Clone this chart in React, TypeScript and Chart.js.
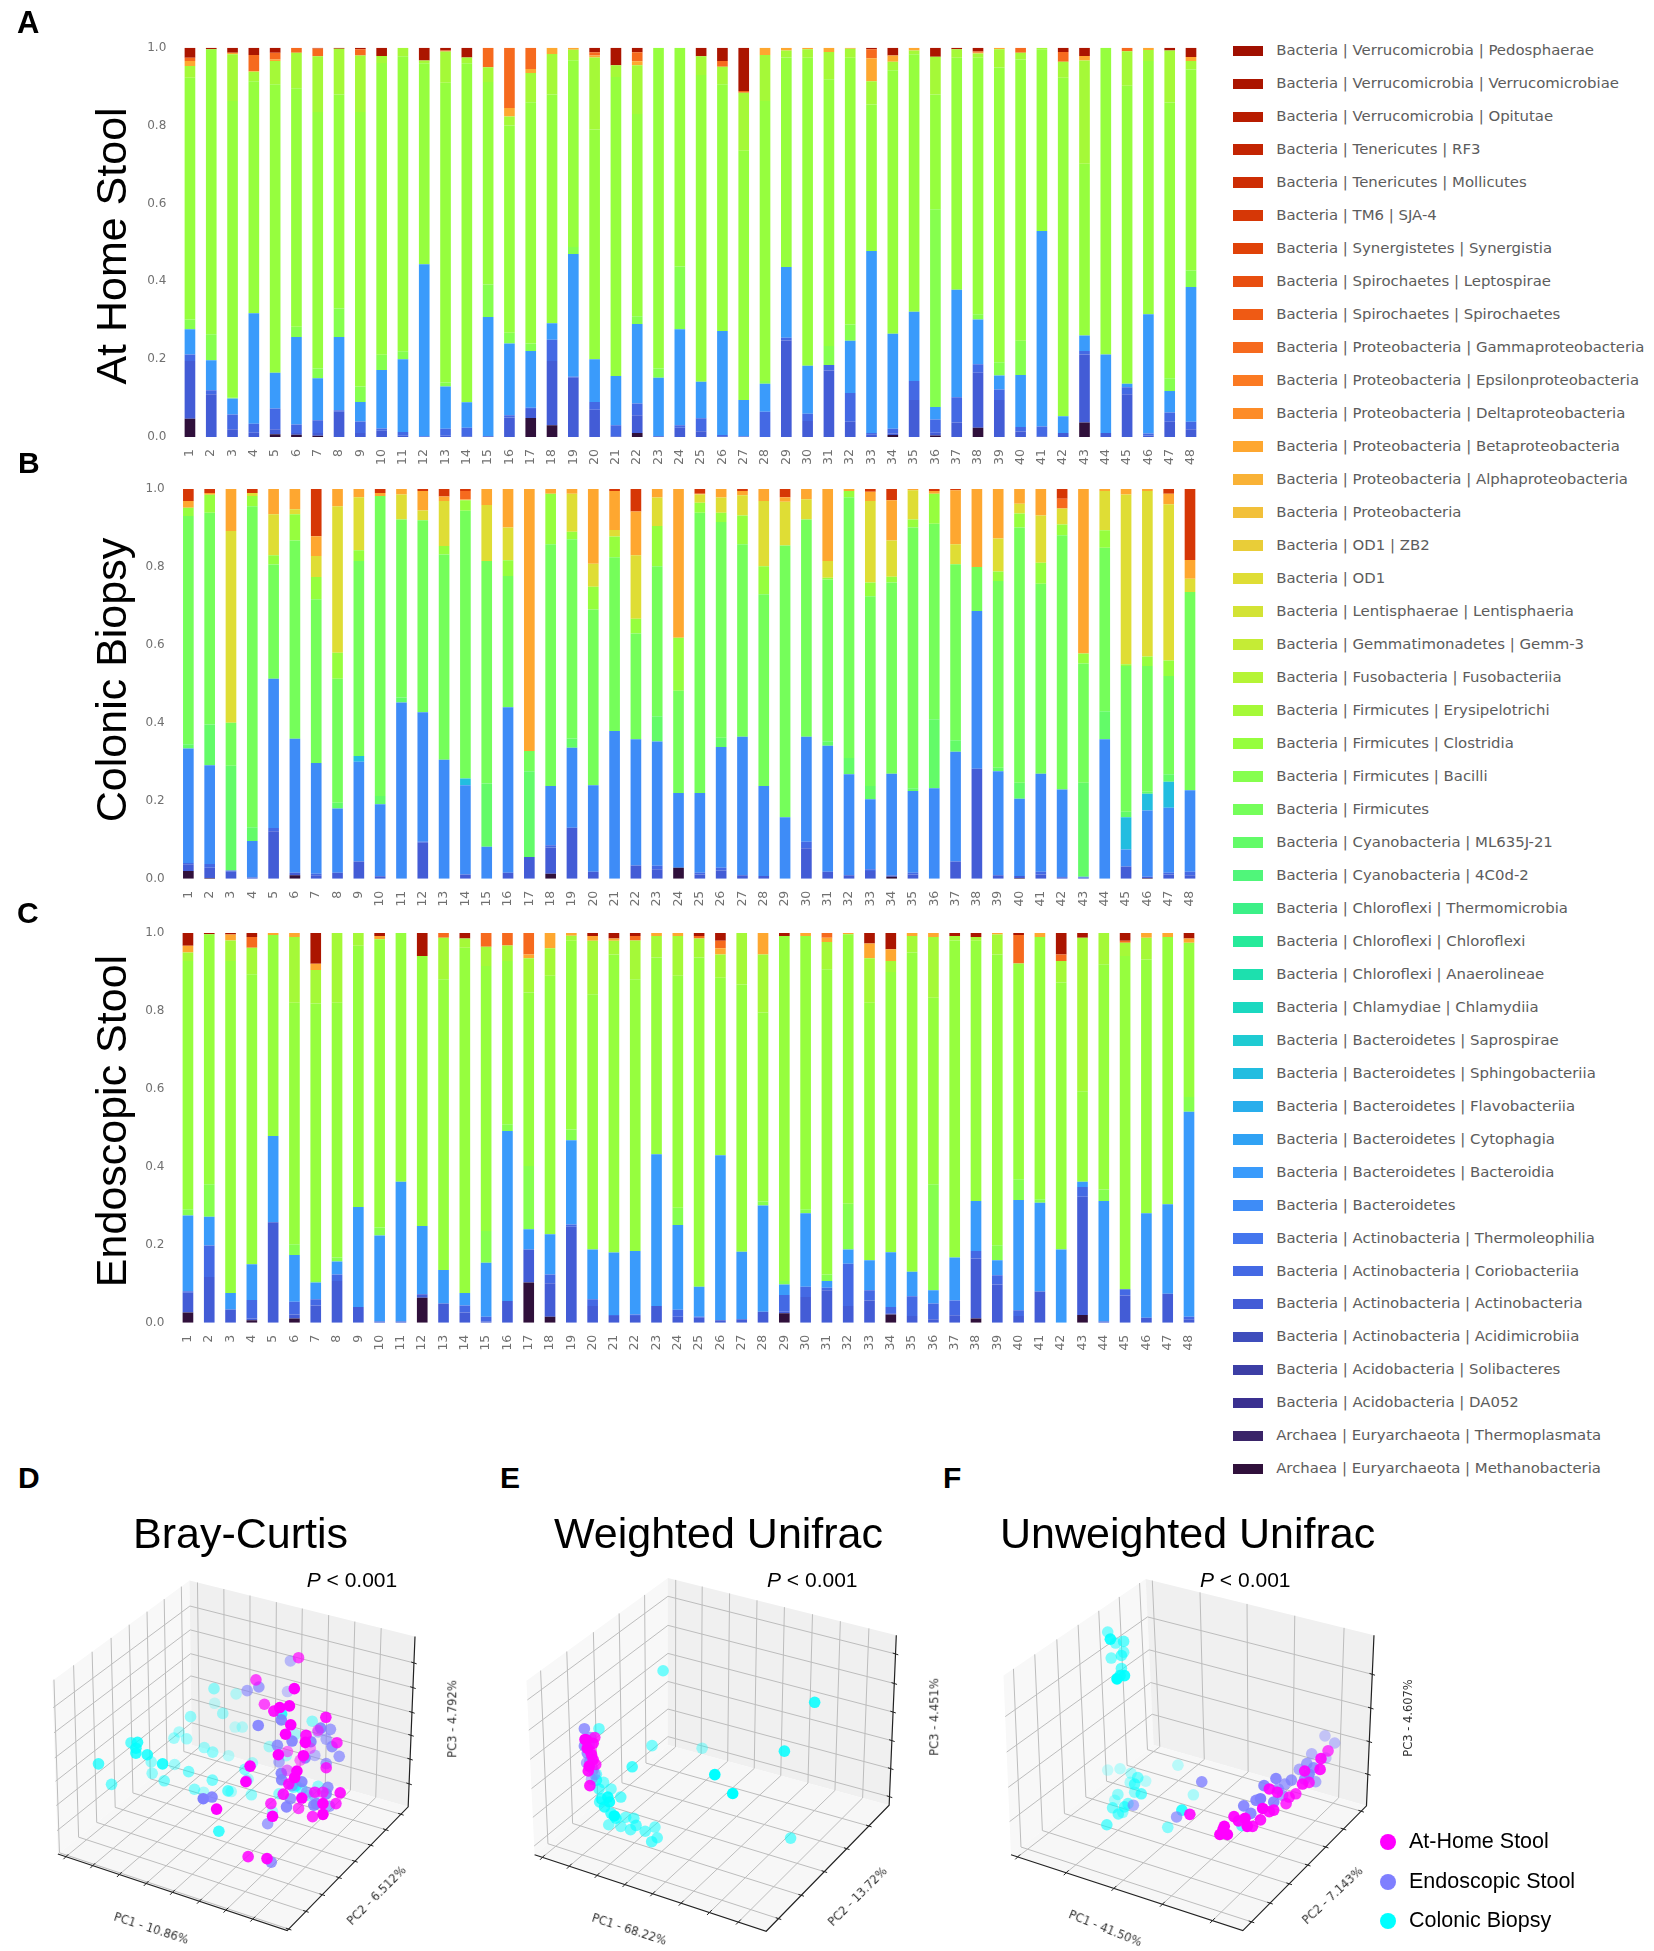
import React, { useEffect, useRef } from "react";
import { Chart, registerables } from "chart.js";
Chart.register(...registerables);

// ---------- legend taxa, top to bottom ----------
const taxonLabels = [
  "Bacteria | Verrucomicrobia | Pedosphaerae","Bacteria | Verrucomicrobia | Verrucomicrobiae","Bacteria | Verrucomicrobia | Opitutae",
  "Bacteria | Tenericutes | RF3","Bacteria | Tenericutes | Mollicutes","Bacteria | TM6 | SJA-4","Bacteria | Synergistetes | Synergistia",
  "Bacteria | Spirochaetes | Leptospirae","Bacteria | Spirochaetes | Spirochaetes","Bacteria | Proteobacteria | Gammaproteobacteria",
  "Bacteria | Proteobacteria | Epsilonproteobacteria","Bacteria | Proteobacteria | Deltaproteobacteria","Bacteria | Proteobacteria | Betaproteobacteria",
  "Bacteria | Proteobacteria | Alphaproteobacteria","Bacteria | Proteobacteria","Bacteria | OD1 | ZB2","Bacteria | OD1","Bacteria | Lentisphaerae | Lentisphaeria",
  "Bacteria | Gemmatimonadetes | Gemm-3","Bacteria | Fusobacteria | Fusobacteriia","Bacteria | Firmicutes | Erysipelotrichi","Bacteria | Firmicutes | Clostridia",
  "Bacteria | Firmicutes | Bacilli","Bacteria | Firmicutes","Bacteria | Cyanobacteria | ML635J-21","Bacteria | Cyanobacteria | 4C0d-2",
  "Bacteria | Chloroflexi | Thermomicrobia","Bacteria | Chloroflexi | Chloroflexi","Bacteria | Chloroflexi | Anaerolineae","Bacteria | Chlamydiae | Chlamydiia",
  "Bacteria | Bacteroidetes | Saprospirae","Bacteria | Bacteroidetes | Sphingobacteriia","Bacteria | Bacteroidetes | Flavobacteriia","Bacteria | Bacteroidetes | Cytophagia",
  "Bacteria | Bacteroidetes | Bacteroidia","Bacteria | Bacteroidetes","Bacteria | Actinobacteria | Thermoleophilia","Bacteria | Actinobacteria | Coriobacteriia",
  "Bacteria | Actinobacteria | Actinobacteria","Bacteria | Actinobacteria | Acidimicrobiia","Bacteria | Acidobacteria | Solibacteres","Bacteria | Acidobacteria | DA052",
  "Archaea | Euryarchaeota | Thermoplasmata","Archaea | Euryarchaeota | Methanobacteria",
];
const taxonColors = [
  "#a00f00","#ab1500","#b81c00","#c32402","#cd2d04","#d63706","#e04208","#e84e10","#ef5a14","#f66a1e","#fb7a22","#fd8c28","#fea730","#f9b236","#f2c03a",
  "#e9cd38","#dfdd35","#d3e335","#c5ec35","#b5f435","#a5f938","#96fe3e","#86ff4e","#75fe5a","#63fb68","#50f67a","#3cf087","#26ea9a","#1de0ae","#1bd8c0",
  "#1fcbd2","#22bde0","#29aeec","#30a2f4","#3a9bfb","#3e8cf7","#4476ee","#4469e4","#435cd6","#3f4dbc","#3c3ea5","#3a3090","#3a2468","#30103b",
];
const sampleLabels = Array.from({ length: 48 }, (_, i) => String(i + 1));

// ---------- A: At Home Stool, upper edge of each taxon in each sample ----------
const homeMethano = [.047,0,0,0,.007,.006,.003,0,0,0,0,0,0,0,0,0,.049,.03,0,0,0,.01,0,0,0,0,0,0,0,0,0,0,0,.005,0,.004,0,.024,0,0,0,0,.037,0,0,0,0,0];
const homeActino = [.195,.11,.02,.011,.02,.01,.01,.065,.01,.016,.003,0,.003,.002,.002,.05,.072,.195,.152,.07,.002,.056,.002,.024,.015,.002,.001,0,.248,.041,.171,.039,.007,.009,.095,.011,.037,.165,.095,.014,.002,.01,.212,.01,.11,.004,.039,.02];
const homeCorio = [.212,.12,.058,.034,.073,.032,.043,.069,.04,.022,.013,.002,.021,.024,.002,.056,.075,.25,.155,.09,.03,.086,.002,.03,.048,.005,.002,.065,.255,.06,.185,.113,.01,.021,.144,.045,.102,.187,.122,.026,.027,.01,.221,.01,.128,.009,.063,.039];
const homeBacteroidia = [.277,.197,.099,.318,.165,.257,.151,.257,.09,.172,.2,.444,.13,.089,.308,.24,.221,.292,.47,.2,.157,.29,.152,.277,.142,.272,.095,.137,.437,.183,.185,.247,.478,.265,.322,.077,.378,.302,.158,.159,.529,.053,.261,.212,.137,.315,.118,.385];
const homeBacilli = [.302,.264,.101,.318,.165,.283,.176,.33,.13,.211,.22,.444,.14,.09,.392,.268,.24,.292,.488,.2,.157,.31,.176,.438,.142,.272,.095,.144,.437,.183,.234,.289,.478,.265,.322,.585,.378,.315,.192,.247,.529,.053,.261,.212,.137,.315,.151,.428];
const homeClostridia = [.923,.996,.863,.914,.906,.896,.835,.88,.835,.961,.978,.96,.91,.96,.912,.8,.86,.88,.968,.79,.925,.83,1,1,.93,.906,.735,.863,.975,.974,.919,.974,.854,.942,.983,.88,.974,.974,.949,.97,.996,.923,.702,1,.902,.966,.859,.944];
const homeErysipelo = [.953,.996,.983,.938,.966,.987,.978,.997,.98,.979,1,.967,.99,.975,.95,.823,.935,.984,.995,.975,.955,.955,1,1,.978,.951,.884,.981,.993,.996,.989,.997,.914,.964,.993,.977,.996,.985,.996,.987,1,.964,.967,1,.991,.994,.993,.966];
const homeBeta = [.966,.996,.987,.94,.97,.987,.978,.997,.98,.979,1,.967,.99,.975,.95,.845,.945,1,1,.98,.955,.965,1,1,.978,.951,.884,1,1,1,1,1,.973,.98,1,.977,.996,.987,1,.987,1,.964,.979,1,.991,1,.993,.976];
const homeGamma = [.974,.996,.987,.981,.987,1,.998,.997,.996,.979,1,.967,.993,.975,1,1,1,1,1,.988,.955,.988,1,1,.978,.966,.889,1,1,1,1,1,.996,.98,1,.977,.996,.99,1,1,1,.989,.979,1,1,1,.993,.976];

// ---------- B: Colonic Biopsy ----------
const biopsyMethano = [.02,.002,0,0,0,.009,0,0,0,0,0,0,0,0,0,0,0,.013,0,0,0,0,0,.028,0,0,0,0,0,0,0,0,0,.005,0,0,0,0,0,.002,0,0,0,0,0,.002,0,0];
const biopsyActino = [.037,.028,.018,.003,.122,.015,.009,.015,.044,.006,0,.092,0,.011,0,.015,.056,.08,.131,.018,0,.034,.024,.028,.011,.021,.009,.007,0,.078,.018,.009,.02,.008,.011,0,.044,.282,.009,.007,.011,.004,.003,0,.031,.005,.011,.009];
const biopsyCorio = [.04,.038,.021,.003,.13,.015,.013,.015,.044,.006,0,.095,0,.011,0,.015,.056,.086,.131,.018,0,.034,.033,.028,.015,.028,.009,.007,0,.095,.018,.009,.024,.008,.015,0,.044,.282,.009,.007,.018,.004,.003,0,.031,.005,.015,.018];
const biopsyBacteroidetes = [.334,.291,.021,.097,.513,.359,.297,.18,.3,.191,.452,.427,.305,.24,.082,.44,.056,.238,.336,.24,.379,.358,.352,.22,.22,.338,.364,.238,.158,.364,.341,.268,.204,.269,.225,.232,.326,.687,.276,.205,.269,.229,.005,.358,.075,.175,.182,.227];
const biopsySphingo = [.334,.291,.021,.097,.513,.359,.297,.18,.315,.191,.452,.427,.305,.257,.082,.44,.056,.238,.336,.24,.379,.358,.352,.22,.22,.338,.364,.238,.158,.364,.341,.268,.204,.269,.225,.232,.326,.687,.276,.205,.269,.229,.005,.358,.158,.218,.249,.227];
const biopsyMl635 = [.345,.396,.29,.132,.513,.359,.297,.195,.315,.212,.465,.427,.305,.257,.244,.44,.276,.238,.36,.24,.379,.358,.417,.22,.22,.362,.364,.238,.158,.364,.353,.31,.238,.269,.232,.409,.355,.687,.285,.246,.269,.229,.246,.43,.172,.223,.268,.227];
const biopsyFirmicutes = [.931,.939,.4,.956,.806,.868,.717,.513,.815,.982,.922,.92,.832,.944,.815,.777,.328,.858,.871,.691,.825,.629,.802,.482,.939,.915,.858,.73,.855,.922,.768,.979,.725,.76,.901,.911,.807,.8,.764,.901,.757,.881,.552,.849,.546,.546,.52,.736];
const biopsyClostridia = [.952,.985,.4,.982,.83,.935,.774,.58,.843,.982,.922,.92,.854,.971,.815,.817,.328,.988,.89,.749,.878,.667,.905,.618,.965,.939,.932,.802,.855,.922,.772,.995,.76,.775,.922,.988,.807,.8,.788,.937,.811,.909,.578,.894,.55,.57,.56,.736];
const biopsyOd1 = [.952,.985,.892,.99,.935,.948,.828,.956,.979,.982,.986,.945,.969,.971,.959,.901,.328,.988,.988,.808,.895,.83,.978,.618,.986,.978,.984,.969,.967,.974,.815,.995,.969,.868,.997,.988,.858,.8,.873,.962,.932,.95,.578,.995,.986,.995,.961,.77];
const biopsyBeta = [.969,.99,1,.99,1,1,.879,1,1,.99,1,.995,.981,.973,1,1,1,1,1,1,.995,.942,1,1,.988,1,.995,1,.979,1,1,1,.993,.971,1,.995,.997,1,1,1,1,.95,1,1,1,1,.988,.818];
const biopsyGamma = [.969,.99,1,.99,1,1,.879,1,1,.99,1,.995,.981,.995,1,1,1,1,1,1,.995,.942,1,1,.988,1,.995,1,.979,1,1,1,.993,.971,1,.995,.997,1,1,1,1,.975,1,1,1,1,.988,.818];

// ---------- C: Endoscopic Stool ----------
const endoMethano = [.026,0,0,.006,0,.011,0,0,0,0,0,.064,0,0,0,0,.103,.015,0,0,0,0,0,0,0,0,0,0,.024,0,0,0,0,.021,0,0,0,.011,0,0,0,0,.02,0,0,0,0,0];
const endoActino = [.077,.117,.034,.011,.258,.021,.044,.107,.04,.003,.003,.073,.049,.026,.003,.056,.188,.101,.246,.043,.017,.017,.043,.015,.013,.006,.009,.028,.028,.066,.083,.043,.057,.024,.017,.009,.019,.165,.098,.017,.08,0,.323,.003,.07,.013,.074,.009];
const endoCorio = [.081,.198,.034,.058,.258,.054,.06,.124,.04,.003,.003,.073,.049,.044,.015,.056,.188,.124,.252,.06,.02,.021,.043,.033,.015,.006,.009,.028,.071,.092,.09,.151,.083,.04,.068,.049,.057,.184,.122,.032,.08,0,.348,.003,.086,.013,.074,.015];
const endoBacteroidia = [.275,.272,.076,.15,.479,.174,.103,.157,.297,.224,.362,.248,.135,.076,.154,.492,.24,.227,.468,.188,.18,.184,.432,.251,.092,.43,.182,.301,.098,.281,.107,.188,.16,.181,.131,.083,.167,.312,.16,.315,.308,.188,.362,.312,.086,.281,.304,.541];
const endoBacilli = [.291,.355,.076,.15,.479,.201,.107,.167,.297,.244,.362,.248,.135,.076,.235,.509,.402,.227,.496,.188,.18,.184,.432,.295,.092,.43,.182,.311,.107,.291,.124,.305,.16,.181,.131,.355,.167,.312,.199,.368,.317,.188,.362,.342,.086,.281,.304,.579];
const endoClostridia = [.928,.997,.928,.894,.995,.821,.819,.821,.967,.984,1,.941,.881,.962,.915,.928,.847,.89,.98,.843,.945,.881,.937,.89,.937,.885,.868,.796,.992,.992,.907,.997,.821,.9,.95,.834,.981,.98,.945,.922,.99,.873,.594,.92,.941,.932,.99,.975];
const endoErysipelo = [.95,.997,.981,.962,.995,.99,.905,1,1,.984,1,.941,.988,.986,.965,.968,.935,.961,.993,.98,.98,.981,.992,.992,.986,.945,1,.945,.992,.992,.977,.997,.935,.928,.992,.99,.992,.99,.996,.922,.99,.928,.988,1,.975,.988,.99,.975];
const endoBeta = [.967,.997,.996,.962,1,1,.921,1,1,.992,1,.941,.988,.986,.965,.968,.945,1,1,.992,.986,.981,1,1,.986,.961,1,1,.992,1,.988,1,.973,.958,1,1,.992,.99,1,.922,1,.928,.988,1,.975,1,1,.986];
const endoGamma = [.967,.997,.996,.99,1,1,.921,1,1,.992,1,.941,1,.986,1,1,1,1,1,.992,.986,.992,1,1,.992,.98,1,1,.992,1,1,1,.973,.958,1,1,.992,.99,1,.995,1,.945,.988,1,.98,1,1,.986];

// [projected x, projected y, depth shade]
const brayHome = [[900,617,.7],[769,685,.7],[887,712,1],[795,760,.7],[824,781,.9],[842,770,1],[872,765,1],[876,823,1],[984,800,.9],[860,852,1],[923,855,.9],[921,877,1],[1018,878,.8],[838,915,1],[866,905,.5],[915,918,1],[905,932,.5],[936,895,.4],[751,950,1],[738,998,1],[985,955,.8],[895,965,1],[865,963,.4],[888,985,1],[870,1005,.9],[1028,1032,.9],[853,1036,.9],[910,1048,1],[950,1030,.8],[975,1030,.7],[975,1065,1],[1015,1065,.8],[815,1065,.8],[900,1080,.7],[648,1082,1],[820,1104,1],[943,1105,.8],[975,1098,1],[745,1228,.85],[803,1234,.95],[960,840,.5]];
const brayEndo = [[875,627,.5],[742,718,.6],[778,707,.7],[866,721,.4],[847,808,.9],[776,825,.9],[968,833,.9],[998,837,.7],[960,845,.5],[880,873,.9],[985,867,.6],[938,875,.9],[1003,890,.8],[835,886,.8],[1025,920,.7],[920,925,.9],[950,917,.5],[985,942,.7],[840,937,.6],[847,972,.9],[848,992,.9],[865,963,.3],[910,998,.9],[880,1010,.6],[990,1015,.8],[985,1035,.9],[948,1040,.5],[875,1050,.8],[863,1075,.9],[947,1070,.9],[995,1073,.7],[955,1065,.8],[607,1050,1],[634,1045,.9],[805,1127,.7],[816,1245,.8],[740,995,.5],[925,1030,.6]];
const brayBiopsy = [[285,943,.7],[325,1006,.55],[385,878,.6],[405,877,.8],[400,895,.8],[400,910,.8],[435,915,.8],[447,937,.4],[482,943,.85],[519,945,.35],[450,972,.4],[487,995,.5],[562,967,.5],[635,993,.5],[580,1021,.45],[608,1030,.3],[683,1026,.6],[693,1028,.3],[755,1038,.4],[568,798,.4],[640,712,.4],[708,728,.25],[642,757,.2],[667,788,.35],[705,830,.2],[727,830,.25],[533,845,.3],[517,864,.35],[556,866,.35],[610,893,.35],[636,907,.4],[685,918,.25],[655,1150,.75],[735,960,.45],[758,940,.3],[745,990,.3],[848,790,.8],[942,812,.4],[890,852,.3],[810,890,.3],[862,918,.3],[840,1035,.4],[885,1015,.5],[910,1020,.5],[960,1012,.4],[820,1090,.3],[892,1010,.6],[930,1040,.4]];

const weightedHome = [[335,862,.8],[305,868,1],[330,880,.9],[312,895,1],[325,915,.9],[330,930,.9],[318,950,1],[338,945,.8],[315,965,.9],[320,1010,.9],[310,870,1],[322,905,.8]];
const weightedEndo = [[303,835,.8],[322,862,.7],[303,888,.8],[312,910,.8],[320,935,.7],[330,960,.6],[335,975,.5],[325,990,.5],[310,940,.6],[318,885,.7]];
const weightedBiopsy = [[545,657,.55],[1011,754,.85],[918,904,.85],[348,835,.55],[511,887,.5],[665,895,.35],[450,952,.7],[704,976,1],[759,1034,1],[937,1171,.55],[340,975,.5],[340,993,.7],[362,1000,.5],[348,1020,.6],[385,1020,.5],[415,1045,.6],[375,1045,.9],[355,1050,.7],[380,1060,.9],[365,1075,.8],[385,1095,.7],[395,1103,1],[430,1107,.5],[455,1110,.55],[462,1132,.6],[378,1130,.5],[415,1135,.5],[445,1145,.55],[490,1150,.55],[520,1137,.5],[527,1170,.55],[510,1182,.6],[400,1110,.7],[350,1060,.6]];

const unweightedHome = [[843,903,.7],[827,927,.9],[825,960,.9],[790,965,.9],[785,1005,.9],[800,1000,.8],[710,1020,.9],[728,1030,.9],[770,1035,.8],[755,1045,.8],[748,1065,.8],[720,1085,.9],[695,1080,1],[690,1115,.9],[710,1090,.9],[630,1105,.95],[655,1110,1],[640,1118,.95],[660,1135,1],[672,1135,.9],[530,1098,.9],[608,1135,1],[598,1160,1],[615,1160,1],[605,1145,1]];
const unweightedEndo = [[836,857,.4],[858,879,.45],[806,912,.5],[838,925,.4],[795,942,.7],[810,955,.8],[800,975,.9],[790,990,.8],[815,998,.6],[725,988,.9],[760,993,.8],[745,1005,.7],[698,1010,.9],[730,1020,.7],[557,998,.8],[720,1060,.9],[690,1050,1],[680,1055,.9],[652,1072,.9],[740,1040,.7],[402,1070,.6],[500,1106,.7],[668,1095,.9],[778,960,.6]];
const unweightedBiopsy = [[344,538,.5],[350,560,.9],[380,567,.6],[362,572,.5],[380,600,.5],[352,618,.5],[375,610,.6],[375,650,.6],[365,682,1],[382,672,.9],[372,672,.8],[344,962,.2],[372,958,.25],[503,947,.25],[397,972,.3],[412,985,.5],[430,996,.25],[395,1000,.3],[405,1005,.6],[420,1035,.6],[405,1030,.4],[367,1037,.4],[538,1038,.3],[360,1055,.3],[390,1065,.5],[355,1078,.5],[382,1075,.6],[368,1097,.55],[512,1085,.8],[480,1138,.45],[342,1130,.6],[648,1133,.6],[378,1092,.4]];

const braySeries = [brayHome, brayEndo, brayBiopsy];
const weightedSeries = [weightedHome, weightedEndo, weightedBiopsy];
const unweightedSeries = [unweightedHome, unweightedEndo, unweightedBiopsy];
const groupNames = ["At-Home Stool", "Endoscopic Stool", "Colonic Biopsy"];
const groupRgb = ["255,0,255", "127,127,255", "0,255,255"];

const brayTicks = { pc1: [.035,.152,.268,.385,.5,.617,.733,.85], pc2: [.012,.155,.29,.428,.56,.69,.815,.94], pc3: [.135,.28,.42,.555,.7,.845] };
const weightedTicks = { pc1: [.034,.15,.27,.39,.51,.633,.755,.88], pc2: [.1,.285,.473,.655,.835], pc3: [.05,.215,.38,.548,.716,.89] };
const unweightedTicks = { pc1: [.029,.238,.444,.653,.869], pc2: [.07,.22,.375,.525,.67,.814,.957], pc3: [.185,.376,.573,.771] };

const SANS = '"Liberation Sans", Arial, sans-serif';
const DEJA = '"DejaVu Sans", sans-serif';

function color(label: string) {
  return taxonColors[taxonLabels.findIndex((t) => t.endsWith(label))];
}

function stackFromEdges(edges: [string, number[]][], lastTaxon: string) {
  const out: any[] = [];
  edges.forEach(([taxon, top], i) => {
    const below = i ? edges[i - 1][1] : null;
    out.push({ label: taxon, backgroundColor: color(taxon), data: top.map((v, j) => Math.max(0, v - (below ? below[j] : 0))) });
  });
  const last = edges[edges.length - 1][1];
  out.push({ label: lastTaxon, backgroundColor: color(lastTaxon), data: last.map((v) => Math.max(0, 1 - v)) });
  return out;
}

const homeStack = stackFromEdges([["Methanobacteria",homeMethano],["| Actinobacteria",homeActino],["Coriobacteriia",homeCorio],["Bacteroidia",homeBacteroidia],["Bacilli",homeBacilli],["Clostridia",homeClostridia],["Erysipelotrichi",homeErysipelo],["Betaproteobacteria",homeBeta],["Gammaproteobacteria",homeGamma]], "Verrucomicrobiae");
const biopsyStack = stackFromEdges([["Methanobacteria",biopsyMethano],["| Actinobacteria",biopsyActino],["Coriobacteriia",biopsyCorio],["Bacteria | Bacteroidetes",biopsyBacteroidetes],["Sphingobacteriia",biopsySphingo],["ML635J-21",biopsyMl635],["Bacteria | Firmicutes",biopsyFirmicutes],["Clostridia",biopsyClostridia],["Bacteria | OD1",biopsyOd1],["Betaproteobacteria",biopsyBeta],["Gammaproteobacteria",biopsyGamma]], "SJA-4");
const endoStack = stackFromEdges([["Methanobacteria",endoMethano],["| Actinobacteria",endoActino],["Coriobacteriia",endoCorio],["Bacteroidia",endoBacteroidia],["Bacilli",endoBacilli],["Clostridia",endoClostridia],["Erysipelotrichi",endoErysipelo],["Betaproteobacteria",endoBeta],["Gammaproteobacteria",endoGamma]], "Verrucomicrobiae");

function Abs({ left, top, style, children }: any) {
  return <div style={{ position: "absolute", left, top, whiteSpace: "nowrap", lineHeight: 1, ...style }}>{children}</div>;
}
// Text placed by its baseline (Liberation Sans metrics).
function Base({ left, base, size, bold, children, font }: any) {
  return <Abs left={left} top={base - 0.8465 * size} style={{ fontFamily: font || SANS, fontSize: size, fontWeight: bold ? 700 : 400, color: "#000" }}>{children}</Abs>;
}
function Turned({ cx, cy, angle, size, font, fill, children }: any) {
  return <Abs left={cx} top={cy} style={{ fontFamily: font, fontSize: size, color: fill, transform: `translate(-50%,-50%) rotate(${angle}deg)` }}>{children}</Abs>;
}

function BarPanel({ stack, top, height, plotLeft, plotRight, plotTop, plotBottom }: any) {
  const ref = useRef<HTMLCanvasElement>(null);
  useEffect(() => {
    const chart = new Chart(ref.current!, {
      type: "bar",
      data: {
        labels: sampleLabels,
        datasets: stack.map((d: any) => ({ ...d, borderWidth: 0, categoryPercentage: 1, barPercentage: 0.5 })),
      },
      options: {
        animation: false, responsive: false, devicePixelRatio: 1,
        layout: { padding: { top: plotTop, left: 0, right: 0, bottom: 0 } },
        plugins: { legend: { display: false }, tooltip: { enabled: false }, title: { display: false } },
        scales: {
          x: {
            stacked: true, offset: true, grid: { display: false }, border: { display: false },
            ticks: { autoSkip: false, maxRotation: 90, minRotation: 90, padding: 4, color: "#707070", font: { family: DEJA, size: 12.5 } },
            afterFit: (s: any) => { s.height = height - plotBottom; },
          },
          y: {
            stacked: true, min: 0, max: 1, grid: { display: false }, border: { display: false },
            ticks: { stepSize: 0.2, padding: 5, color: "#707070", font: { family: DEJA, size: 12 }, callback: (v: any) => Number(v).toFixed(1) },
            afterFit: (s: any) => { s.width = plotLeft; },
          },
        },
      },
    } as any);
    return () => chart.destroy();
  }, []);
  return <canvas ref={ref} width={plotRight} height={height} style={{ position: "absolute", left: 0, top, width: plotRight, height }} />;
}

const wirePlugin = (frame: any, ticks: any) => ({
  id: "wire3d",
  beforeDatasetsDraw(chart: any) {
    const { ctx, scales: { x, y } } = chart;
    const px = (p: number[]) => [x.getPixelForValue(p[0]), y.getPixelForValue(p[1])];
    const mix = (a: number[], b: number[], t: number) => [a[0] + (b[0] - a[0]) * t, a[1] + (b[1] - a[1]) * t];
    const poly = (pts: number[][], fill: string) => {
      ctx.beginPath();
      pts.map(px).forEach((p: number[], i: number) => (i ? ctx.lineTo(p[0], p[1]) : ctx.moveTo(p[0], p[1])));
      ctx.closePath();
      ctx.fillStyle = fill;
      ctx.fill();
    };
    const path = (pts: number[][], stroke: string, w: number) => {
      ctx.beginPath();
      pts.map(px).forEach((p: number[], i: number) => (i ? ctx.lineTo(p[0], p[1]) : ctx.moveTo(p[0], p[1])));
      ctx.strokeStyle = stroke;
      ctx.lineWidth = w;
      ctx.stroke();
    };
    const { L, B, R, F, TL, TB, TR } = frame;
    ctx.save();
    poly([TL, TB, B, L], "#f8f8f8");
    poly([TB, TR, R, B], "#f0f0f0");
    poly([L, B, R, F], "#f7f7f7");
    const grid = "#bdbdbd";
    ticks.pc1.forEach((t: number) => path([mix(L, F, t), mix(B, R, t), mix(TB, TR, t)], grid, 1));
    ticks.pc2.forEach((t: number) => path([mix(F, R, t), mix(L, B, t), mix(TL, TB, t)], grid, 1));
    ticks.pc3.forEach((t: number) => path([mix(R, TR, t), mix(B, TB, t), mix(L, TL, t)], grid, 1));
    path([L, F, R, TR], "#222", 1.2);
    const nudge = (a: number[], d: number[], k: number) => [a[0] + d[0] * k, a[1] + d[1] * k];
    const along = [(R[0] - F[0]), (R[1] - F[1])];
    const across = [(F[0] - L[0]), (F[1] - L[1])];
    ticks.pc1.forEach((t: number) => { const p = mix(L, F, t); path([nudge(p, along, -.02), nudge(p, along, .02)], "#222", 1); });
    ticks.pc2.forEach((t: number) => { const p = mix(F, R, t); path([nudge(p, across, -.012), nudge(p, across, .012)], "#222", 1); });
    ticks.pc3.forEach((t: number) => { const p = mix(R, TR, t); path([nudge(p, across, -.012), nudge(p, across, .012)], "#222", 1); });
    ctx.restore();
  },
});

function OrdinationPanel({ series, frame, ticks, left, width, unitsX, radius }: any) {
  const ref = useRef<HTMLCanvasElement>(null);
  useEffect(() => {
    const chart = new Chart(ref.current!, {
      type: "scatter",
      data: {
        datasets: series.map((pts: number[][], g: number) => ({
          label: groupNames[g],
          data: pts.map((p) => ({ x: p[0], y: p[1] })),
          backgroundColor: pts.map((p) => `rgba(${groupRgb[g]},${p[2]})`),
          borderWidth: 0,
          pointRadius: radius,
        })),
      },
      options: {
        animation: false, responsive: false, devicePixelRatio: 1,
        layout: { padding: 0 },
        plugins: { legend: { display: false }, tooltip: { enabled: false } },
        scales: {
          x: { type: "linear", display: false, min: 0, max: unitsX },
          y: { type: "linear", display: false, min: 0, max: 1503, reverse: true },
        },
      },
      plugins: [wirePlugin(frame, ticks)],
    } as any);
    return () => chart.destroy();
  }, []);
  return <canvas ref={ref} width={width} height={501} style={{ position: "absolute", left, top: 1450, width, height: 501 }} />;
}

const brayFrame = { L: [160,1220], B: [572,885], R: [1237,1075], F: [865,1455], TL: [143,688], TB: [565,380], TR: [1258,552] };
const weightedFrame = { L: [150,1222], B: [560,885], R: [1240,1070], F: [862,1457], TL: [125,688], TB: [560,372], TR: [1262,548] };
const unweightedFrame = { L: [125,1222], B: [448,885], R: [930,1072], F: [650,1455], TL: [108,672], TB: [430,375], TR: [947,548] };

const TITLE = 43;

export default function App() {
  return (
    <div style={{ position: "absolute", left: 0, top: 1, width: 1654, height: 1950, background: "#fff", overflow: "hidden" }}>
      <BarPanel stack={homeStack} top={0} height={480} plotLeft={179.3} plotRight={1210} plotTop={46.7} plotBottom={436} />
      <BarPanel stack={biopsyStack} top={450} height={480} plotLeft={177.7} plotRight={1209} plotTop={38} plotBottom={427.7} />
      <BarPanel stack={endoStack} top={900} height={470} plotLeft={177.3} plotRight={1208} plotTop={32} plotBottom={421.7} />

      <Base left={17} base={32} size={31} bold>A</Base>
      <Base left={18} base={472} size={30} bold>B</Base>
      <Base left={17} base={922} size={30} bold>C</Base>
      <Base left={18} base={1487} size={30} bold>D</Base>
      <Base left={500} base={1487} size={30} bold>E</Base>
      <Base left={943} base={1487} size={30} bold>F</Base>

      <Turned cx={111} cy={245} angle={-90} size={TITLE} font={SANS} fill="#000">At Home Stool</Turned>
      <Turned cx={111} cy={679} angle={-90} size={TITLE} font={SANS} fill="#000">Colonic Biopsy</Turned>
      <Turned cx={111} cy={1120} angle={-90} size={TITLE} font={SANS} fill="#000">Endoscopic Stool</Turned>

      {taxonLabels.map((t, i) => (
        <React.Fragment key={t}>
          <div style={{ position: "absolute", left: 1233.4, top: 49.85 + i * 32.98 - 5.3, width: 30, height: 10.7, background: taxonColors[i] }} />
          <Abs left={1276.2} top={49.85 + i * 32.98 - 7.6} style={{ fontFamily: DEJA, fontSize: 14.9, color: "#5c5c5c" }}>{t}</Abs>
        </React.Fragment>
      ))}

      <OrdinationPanel series={braySeries} frame={brayFrame} ticks={brayTicks} left={0} width={480} unitsX={1440} radius={5.8} />
      <OrdinationPanel series={weightedSeries} frame={weightedFrame} ticks={weightedTicks} left={480} width={480} unitsX={1440} radius={5.8} />
      <OrdinationPanel series={unweightedSeries} frame={unweightedFrame} ticks={unweightedTicks} left={950} width={704} unitsX={1568} radius={5.8} />

      <Base left={133} base={1547} size={TITLE}>Bray-Curtis</Base>
      <Base left={554} base={1547} size={TITLE}>Weighted Unifrac</Base>
      <Base left={1000} base={1547} size={TITLE}>Unweighted Unifrac</Base>
      <Base left={306.7} base={1586} size={21}><i>P</i> &lt; 0.001</Base>
      <Base left={767} base={1586} size={21}><i>P</i> &lt; 0.001</Base>
      <Base left={1200} base={1586} size={21}><i>P</i> &lt; 0.001</Base>

      <Turned cx={151} cy={1928} angle={18} size={11.5} font={DEJA} fill="#333">PC1 - 10.86%</Turned>
      <Turned cx={377} cy={1895} angle={-45} size={11.5} font={DEJA} fill="#333">PC2 - 6.512%</Turned>
      <Turned cx={452.7} cy={1718} angle={-90} size={11.5} font={DEJA} fill="#333">PC3 - 4.792%</Turned>
      <Turned cx={629} cy={1929} angle={18} size={11.5} font={DEJA} fill="#333">PC1 - 68.22%</Turned>
      <Turned cx={858} cy={1896} angle={-45} size={11.5} font={DEJA} fill="#333">PC2 - 13.72%</Turned>
      <Turned cx={935} cy={1716} angle={-90} size={11.5} font={DEJA} fill="#333">PC3 - 4.451%</Turned>
      <Turned cx={1105} cy={1928} angle={22} size={11.5} font={DEJA} fill="#333">PC1 - 41.50%</Turned>
      <Turned cx={1333} cy={1895} angle={-43} size={11.5} font={DEJA} fill="#333">PC2 - 7.143%</Turned>
      <Turned cx={1409} cy={1717} angle={-90} size={11.5} font={DEJA} fill="#333">PC3 - 4.607%</Turned>

      {groupNames.map((g, i) => (
        <React.Fragment key={g}>
          <div style={{ position: "absolute", left: 1380, top: 1833 + i * 39.5, width: 16, height: 16, borderRadius: "50%", background: `rgb(${groupRgb[i]})` }} />
          <Base left={1409} base={1848.5 + i * 39.5} size={21.5}>{g}</Base>
        </React.Fragment>
      ))}
    </div>
  );
}
